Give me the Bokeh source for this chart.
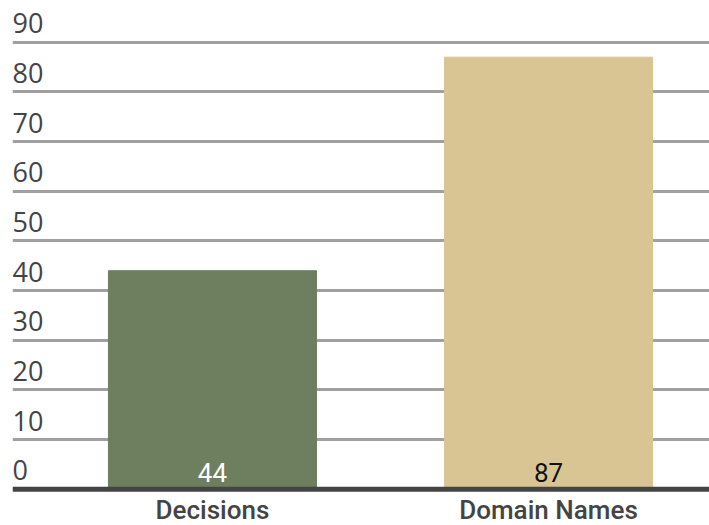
from bokeh.plotting import figure
from bokeh.models import ColumnDataSource, FixedTicker, Range1d, LabelSet, Span
from bokeh.core.properties import value
from bokeh.embed import file_html
from bokeh.resources import INLINE

categories = ["Decisions", "Domain Names"]
values = [44, 87]
y_ticks = [0, 10, 20, 30, 40, 50, 60, 70, 80, 90]
y_tick_labels = ["0", "10", "20", "30", "40", "50", "60", "70", "80", "90"]

bar_colors = ["#6e7f5f", "#d9c593"]
label_colors = ["#ffffff", "#111111"]

xs = list(range(len(categories)))
x_start, x_end = -0.595, 1.479

p = figure(width=709, height=525, output_backend="svg", toolbar_location=None,
           x_range=Range1d(x_start, x_end), y_range=Range1d(-7.31, 96),
           min_border_left=12, min_border_right=0, min_border_top=12, min_border_bottom=0)
p.outline_line_color = None
p.background_fill_color = "white"
p.border_fill_color = "white"

p.xgrid.grid_line_color = None
p.ygrid.ticker = FixedTicker(ticks=y_ticks[1:])
p.ygrid.grid_line_color = "#a0a0a0"
p.ygrid.grid_line_width = 3
p.xaxis.visible = False
p.yaxis.visible = False

src = ColumnDataSource(dict(x=xs, top=values, color=bar_colors,
                            label=[str(v) for v in values], lc=label_colors,
                            cat=categories, zero=[0] * len(values)))
p.vbar(x="x", top="top", bottom=0, width=0.619, color="color", source=src)

p.add_layout(Span(location=0, dimension="width", line_color="#444444", line_width=5))

p.add_layout(LabelSet(x="x", y="zero", text="label", text_color="lc", source=src,
                      text_align="center", text_baseline="alphabetic", y_offset=7,
                      text_font=value("Roboto"), text_font_size="26px"))

p.add_layout(LabelSet(x="x", y="zero", text="cat", source=src,
                      text_align="center", text_baseline="alphabetic", y_offset=-30,
                      text_color="#444444", text_font=value("Roboto Medium"),
                      text_font_size="26px"))

tsrc = ColumnDataSource(dict(x=[x_start] * len(y_ticks), y=y_ticks, t=y_tick_labels))
p.add_layout(LabelSet(x="x", y="y", text="t", source=tsrc, text_align="left",
                      text_baseline="alphabetic", y_offset=9, text_color="#444444",
                      text_font=value("Open Sans"), text_font_size="27px"))

open("out.html", "w").write(file_html(p, INLINE))
